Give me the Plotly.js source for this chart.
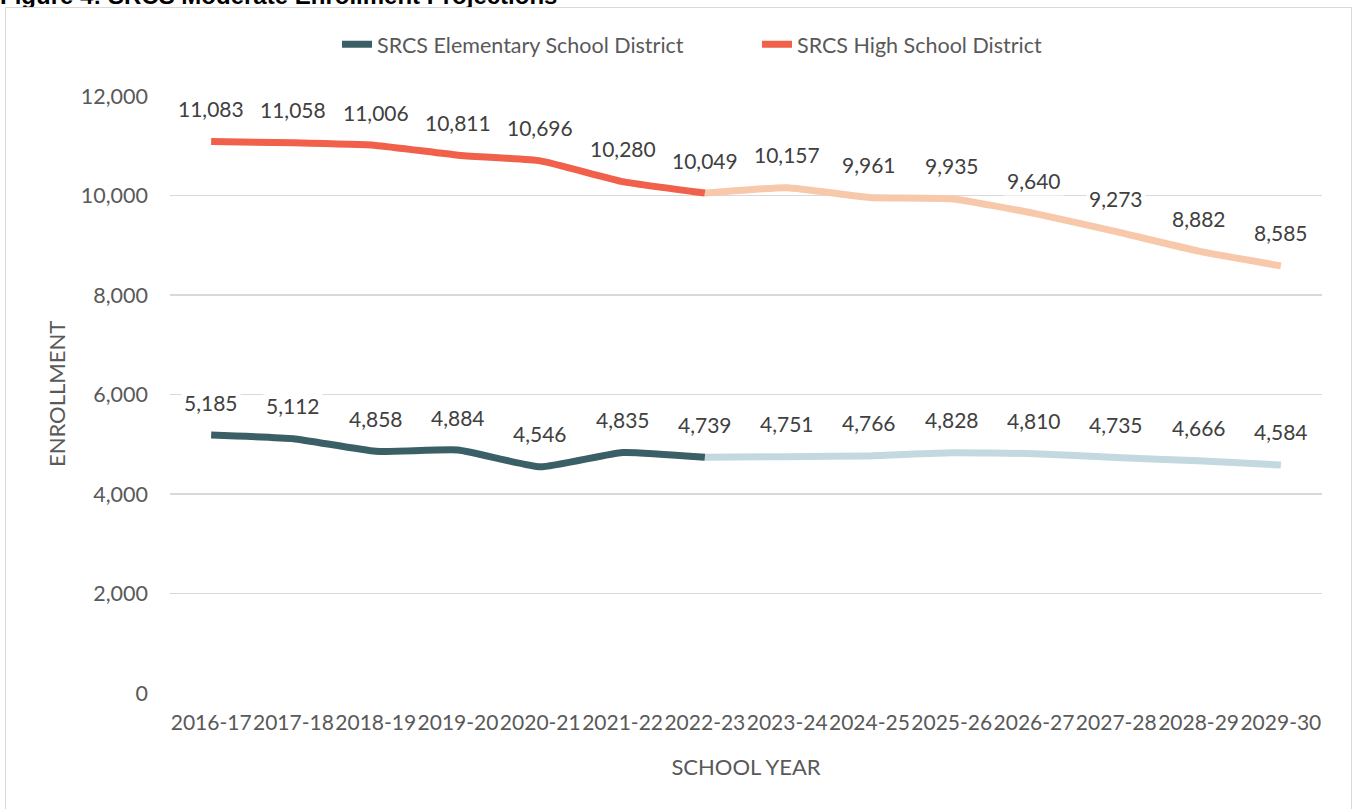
<!DOCTYPE html>
<html>
<head>
<meta charset="utf-8">
<script src="https://cdn.plot.ly/plotly-3.0.1.min.js"></script>
<style>
  html, body { margin: 0; padding: 0; background: #ffffff; overflow: hidden; }
  #title { position: absolute; left: 0px; top: -17px; font-family: "Liberation Sans", Arial, sans-serif; font-weight: bold; font-size: 24px; line-height: 26px; color: #000; white-space: nowrap; }
  #frame { position: absolute; left: 5px; top: 7px; width: 1345px; height: 805px; border: 1.5px solid #d9d9d9; background: #fff; }
  #chart { width: 1345px; height: 805px; }
</style>
</head>
<body>
<div id="title">Figure 4: SRCS Moderate Enrollment Projections</div>
<div id="frame"><div id="chart"></div></div>
<script>
// ---- data ----
const schoolYears = ["2016-17","2017-18","2018-19","2019-20","2020-21","2021-22","2022-23",
                     "2023-24","2024-25","2025-26","2026-27","2027-28","2028-29","2029-30"];
const lastActualIndex = 6; // 2022-23 is the last actual year
const elementaryEnrollment = [5185, 5112, 4858, 4884, 4546, 4835, 4739,
                              4751, 4766, 4828, 4810, 4735, 4666, 4584];
const highSchoolEnrollment = [11083, 11058, 11006, 10811, 10696, 10280, 10049,
                              10157, 9961, 9935, 9640, 9273, 8882, 8585];
const seriesNames = ["SRCS Elementary School District", "SRCS High School District"];
const yTickValues = [0, 2000, 4000, 6000, 8000, 10000, 12000];
const yAxisTitle = "ENROLLMENT";
const xAxisTitle = "SCHOOL YEAR";

// ---- styles ----
const FONT = "Lato, 'Open Sans', sans-serif";
const elemDark = "#3b5f67", elemLight = "#c3d9df";
const highDark = "#f0604a", highLight = "#f8c8aa";
const LW = 7;

const actualX = schoolYears.slice(0, lastActualIndex + 1);
const projX = schoolYears.slice(lastActualIndex);

const traces = [
  { x: projX, y: elementaryEnrollment.slice(lastActualIndex), type: "scatter", mode: "lines",
    line: { color: elemLight, width: LW, shape: "spline", smoothing: 0.4 }, showlegend: false, hoverinfo: "skip", cliponaxis: false },
  { x: projX, y: highSchoolEnrollment.slice(lastActualIndex), type: "scatter", mode: "lines",
    line: { color: highLight, width: LW, shape: "spline", smoothing: 0.4 }, showlegend: false, hoverinfo: "skip", cliponaxis: false },
  { x: actualX, y: elementaryEnrollment.slice(0, lastActualIndex + 1), type: "scatter", mode: "lines",
    name: seriesNames[0], line: { color: elemDark, width: LW, shape: "spline", smoothing: 0.4 }, cliponaxis: false, legendrank: 1 },
  { x: actualX, y: highSchoolEnrollment.slice(0, lastActualIndex + 1), type: "scatter", mode: "lines",
    name: seriesNames[1], line: { color: highDark, width: LW, shape: "spline", smoothing: 0.4 }, cliponaxis: false, legendrank: 2 }
];

const annotations = [];
[elementaryEnrollment, highSchoolEnrollment].forEach(series => {
  series.forEach((v, i) => {
    annotations.push({
      x: schoolYears[i], y: v, xref: "x", yref: "y",
      text: v.toLocaleString("en-US"), showarrow: false,
      yshift: 33, bgcolor: "#ffffff", borderpad: 2,
      font: { family: FONT, size: 21, color: "#404040" }
    });
  });
});
// y axis title placed as a rotated annotation
annotations.push({
  text: yAxisTitle, xref: "paper", yref: "paper", x: -0.0985, y: 0.5,
  xanchor: "center", yanchor: "middle", textangle: -90, showarrow: false,
  font: { family: FONT, size: 22, color: "#595959" }
});

const layout = {
  width: 1345, height: 805,
  margin: { l: 164, r: 29, t: 88, b: 120 },
  paper_bgcolor: "#ffffff", plot_bgcolor: "#ffffff",
  font: { family: FONT, size: 21, color: "#595959" },
  showlegend: true,
  legend: {
    orientation: "h", xref: "container", yref: "container",
    x: 331 / 1345, xanchor: "left", y: 0.955, yanchor: "middle",
    font: { family: FONT, size: 21.5, color: "#595959" },
    traceorder: "normal", entrywidth: 375, entrywidthmode: "pixels"
  },
  xaxis: {
    type: "category", categoryarray: schoolYears, categoryorder: "array",
    showgrid: false, zeroline: false, showline: false, ticks: "",
    tickangle: 0, ticklabelstandoff: 15,
    tickfont: { family: FONT, size: 21, color: "#595959" },
    title: { text: xAxisTitle, standoff: 26, font: { family: FONT, size: 22, color: "#595959" } },
    range: [-0.5, schoolYears.length - 0.5], fixedrange: true
  },
  yaxis: {
    range: [0, 12000], tickvals: yTickValues, tickformat: ",d",
    showgrid: true, gridcolor: "#d9d9d9", gridwidth: 1.5,
    zeroline: false, showline: false, ticks: "",
    ticklabelstandoff: 21,
    tickfont: { family: FONT, size: 21.5, color: "#595959" },
    fixedrange: true
  },
  annotations: annotations
};

Plotly.newPlot("chart", traces, layout, { staticPlot: true, displayModeBar: false });
</script>
</body>
</html>
